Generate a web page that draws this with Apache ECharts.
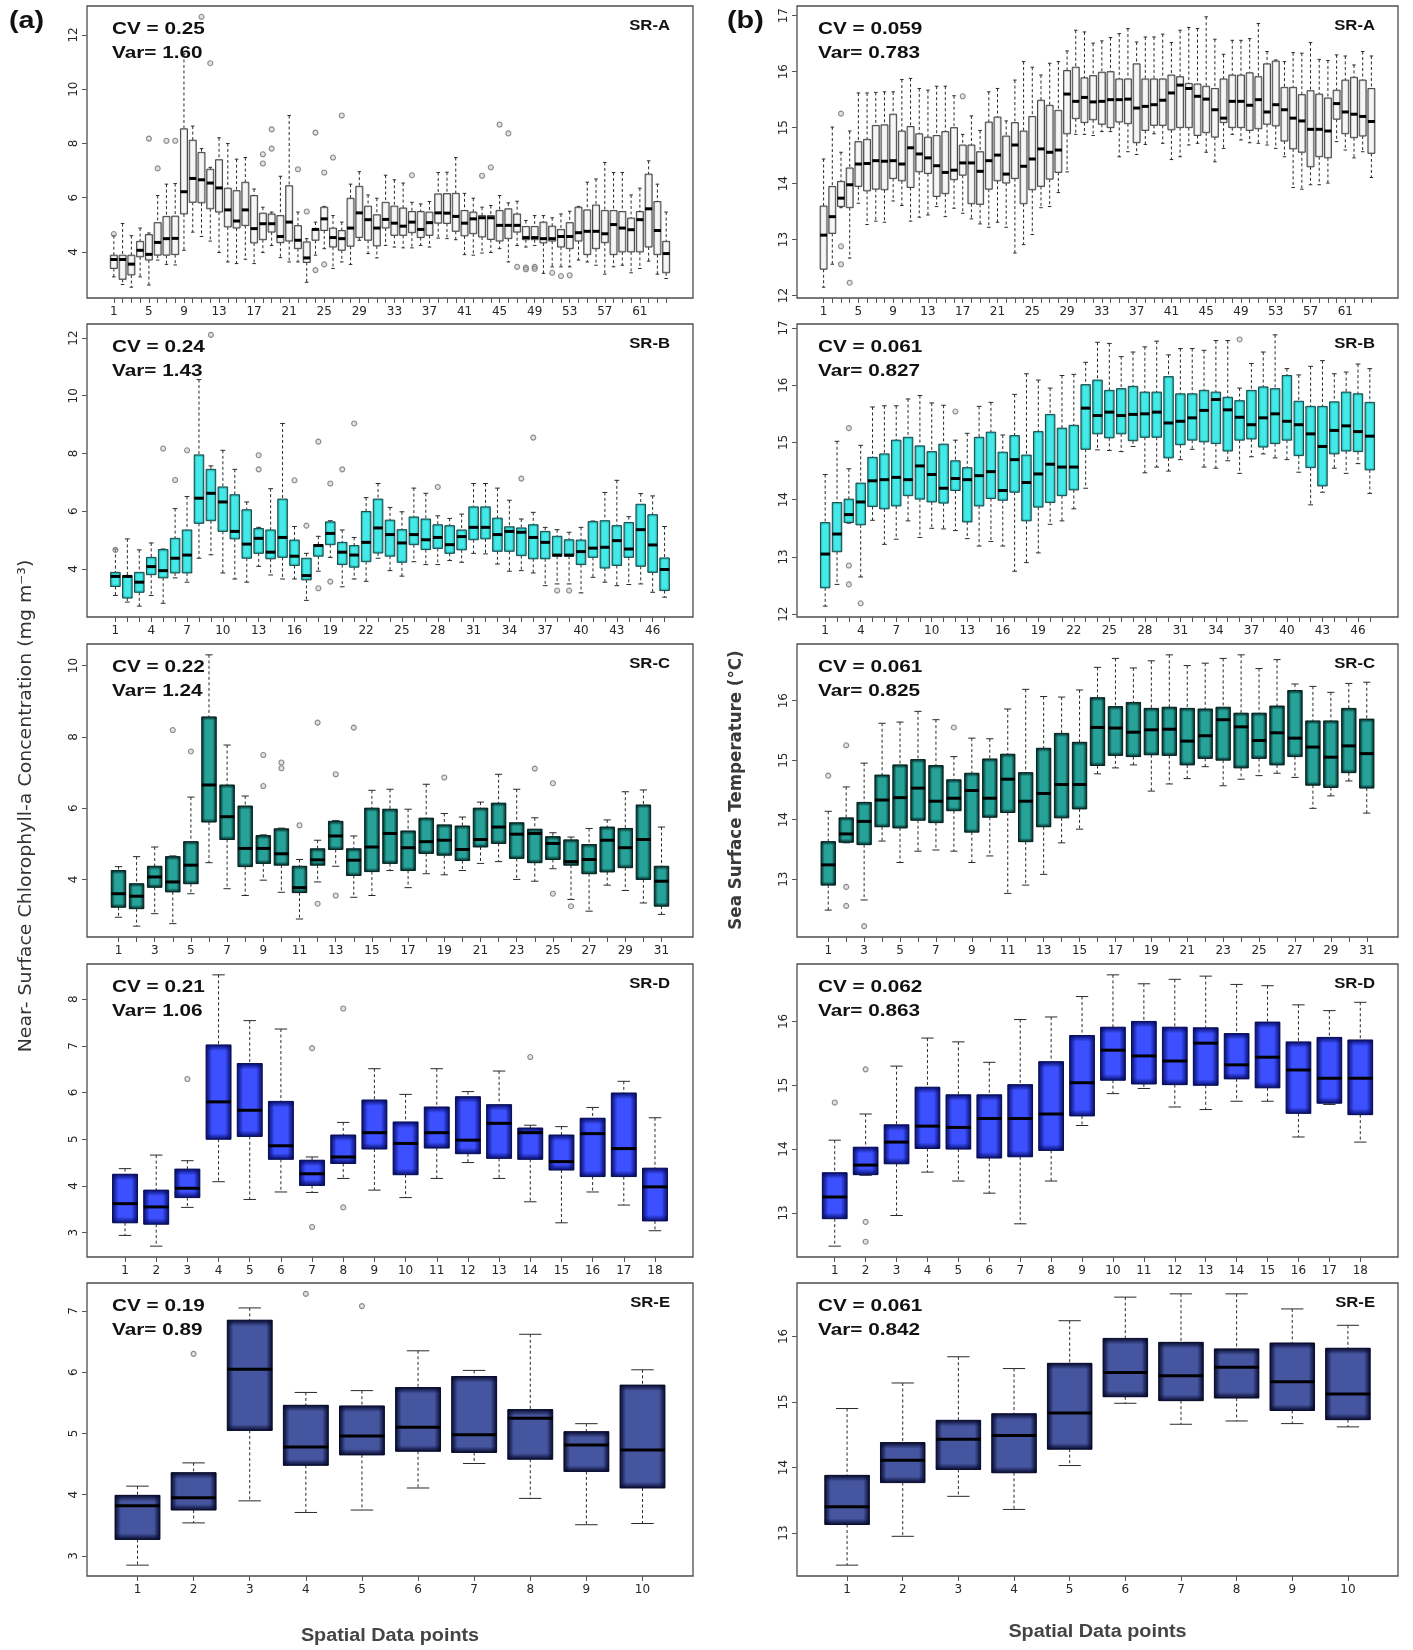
<!DOCTYPE html>
<html>
<head>
<meta charset="utf-8">
<title>Chlorophyll-a and SST box plots by sub-region</title>
<script src="https://cdn.jsdelivr.net/npm/echarts@6.0.0/dist/echarts.min.js"></script>
<style>
  html, body { margin: 0; padding: 0; background: #ffffff; }
  #chart { width: 1413px; height: 1650px; }
</style>
</head>
<body>
<div id="chart"></div>
<script>
// ---- Near-surface chlorophyll-a (mg m-3): [lower whisker, Q1, median, Q3, upper whisker] per spatial data point
const chlA = [
  [3.08,3.39,3.72,3.88,4.6],[2.8,2.99,3.72,3.88,5.05],[2.7,3.15,3.55,3.88,4.6],[3.08,3.82,4.06,4.39,4.88],
  [2.78,3.7,3.91,4.64,4.7],[3.7,3.88,4.35,5.08,6.08],[3.54,3.88,4.49,5.31,6.5],[3.52,3.9,4.5,5.32,6.52],
  [4.06,5.4,6.22,8.54,11.3],[4.73,5.83,6.71,8.12,8.64],[4.57,5.81,6.66,7.67,7.81],[4.4,5.59,6.54,7.05,7.12],
  [3.98,5.47,6.36,7.4,8.21],[3.63,4.92,5.55,6.35,8.0],[3.57,4.88,5.14,6.26,7.42],[3.73,4.97,5.55,6.57,7.48],
  [3.57,4.33,4.86,6.08,6.32],[3.98,4.45,5.04,5.43,5.65],[4.24,4.73,5.04,5.4,5.47],[3.79,4.34,4.57,5.34,6.79],
  [3.63,4.4,5.1,6.44,9.03],[3.63,4.12,4.43,4.97,5.47],[2.88,3.61,3.78,4.37,4.49],[3.88,4.43,4.83,4.86,5.1],
  [4.12,4.79,5.22,5.65,5.68],[3.39,4.18,4.53,4.88,5.34],[3.63,4.06,4.49,4.79,5.1],[3.54,4.21,4.88,5.98,6.5],
  [4.43,4.53,5.44,6.42,6.96],[3.94,4.43,5.19,5.69,6.1],[3.78,4.22,4.88,5.37,5.98],[4.24,4.88,5.2,5.83,6.83],
  [4.18,4.61,5.06,5.69,6.66],[4.15,4.61,4.95,5.62,6.54],[4.15,4.71,5.1,5.49,5.83],[4.24,4.53,4.83,5.49,5.77],
  [4.18,4.61,5.08,5.47,5.86],[4.51,5.06,5.44,6.14,6.93],[4.49,5.05,5.43,6.15,6.94],[4.45,4.76,5.31,6.16,7.48],
  [3.9,4.59,5.06,5.53,6.16],[3.88,4.67,5.22,5.47,5.98],[3.96,4.55,5.26,5.34,5.65],[3.98,4.46,5.26,5.34,5.71],
  [4.12,4.4,4.98,5.53,6.08],[3.63,4.49,4.98,5.59,5.81],[4.24,4.73,4.98,5.4,5.87],[4.18,4.45,4.53,4.94,5.16],
  [4.24,4.45,4.53,4.94,5.34],[3.21,4.33,4.49,5.1,5.34],[3.45,4.4,4.49,4.95,5.26],[3.45,4.18,4.57,4.83,5.4],
  [3.45,4.12,4.57,5.08,5.5],[3.7,4.4,4.71,5.65,5.68],[3.63,3.9,4.76,5.55,6.57],[3.51,4.12,4.76,5.73,6.69],
  [3.18,4.34,4.67,5.53,7.3],[3.45,3.9,5.01,5.53,6.93],[3.51,4.0,4.88,5.49,6.93],[3.23,4.0,4.82,5.25,6.1],
  [3.39,4.0,5.19,5.49,6.35],[3.66,4.18,5.59,6.87,7.36],[3.18,3.9,4.79,5.86,6.5],[3.02,3.23,3.94,4.39,5.47]
];
const chlAOut = [
  [1,4.66],[5,8.18],[6,7.08],[7,8.1],[8,8.1],[11,12.67],[12,10.96],[18,7.6],[18,7.26],[19,8.52],[19,7.81],
  [22,7.05],[23,5.49],[24,8.4],[24,3.33],[25,6.93],[25,3.54],[26,7.48],[27,9.03],[35,6.83],[43,6.81],
  [44,7.12],[45,8.7],[46,8.37],[47,3.45],[48,3.42],[48,3.36],[49,3.45],[49,3.38],[51,3.23],[52,3.11],[53,3.14]
];

const chlB = [
  [3.08,3.39,3.74,3.88,4.69],[2.85,2.99,3.74,3.77,5.04],[2.71,3.19,3.54,3.88,4.66],[3.08,3.8,4.08,4.4,4.9],
  [2.81,3.69,3.94,4.67,4.69],[3.69,3.86,4.37,5.06,6.09],[3.54,3.86,4.48,5.35,6.51],[4.37,5.58,6.45,7.95,10.56],
  [4.49,5.67,6.62,7.45,7.57],[3.86,5.3,6.32,6.84,8.11],[3.65,5.04,5.3,6.57,7.45],[3.54,4.37,4.86,6.05,6.32],
  [4.09,4.54,5.06,5.4,5.44],[3.79,4.35,4.58,5.35,6.78],[3.65,4.4,5.09,6.42,9.04],[3.65,4.12,4.44,5.0,5.47],
  [2.91,3.62,3.77,4.37,4.54],[3.92,4.44,4.81,4.84,5.13],[4.4,4.84,5.23,5.63,5.67],[3.38,4.15,4.58,4.92,5.35],
  [3.65,4.06,4.48,4.81,5.09],[3.57,4.25,4.92,5.99,6.47],[4.37,4.55,5.42,6.42,6.96],[3.94,4.44,5.19,5.69,6.13],
  [3.75,4.23,4.9,5.36,5.98],[4.25,4.84,5.19,5.8,6.8],[4.15,4.67,5.01,5.73,6.62],[4.15,4.71,5.09,5.53,5.84],
  [4.29,4.54,4.84,5.5,5.75],[4.23,4.66,5.12,5.35,5.9],[4.54,5.01,5.44,6.15,6.96],[4.52,5.04,5.44,6.15,6.96],
  [4.17,4.61,5.19,5.76,6.8],[3.92,4.61,5.3,5.46,6.38],[3.94,4.46,5.27,5.42,5.73],[3.86,4.35,5.09,5.53,5.96],
  [3.42,4.35,4.92,5.3,5.44],[3.48,4.44,4.48,5.13,5.36],[3.48,4.44,4.48,5.01,5.27],[3.17,4.15,4.6,5.0,5.44],
  [3.71,4.4,4.72,5.64,5.66],[3.54,4.03,4.75,5.67,6.65],[3.42,4.12,4.98,5.5,7.07],[3.46,4.4,4.69,5.61,5.81],
  [3.48,4.09,5.36,6.24,6.61],[3.19,3.88,4.83,5.88,6.53],[3.02,3.25,3.98,4.38,5.47]
];
const chlBOut = [
  [1,4.66],[5,8.17],[6,7.08],[7,8.11],[9,12.11],[13,7.94],[13,7.45],[16,7.07],[17,5.5],[18,8.41],[18,3.33],
  [19,6.96],[19,3.56],[20,7.45],[21,9.04],[28,6.84],[35,7.13],[36,8.55],[38,3.25],[39,3.25]
];

const chlC = [
  [2.94,3.22,3.6,4.25,4.36],[2.69,3.18,3.53,3.88,4.64],[3.04,3.78,4.07,4.37,4.91],[2.76,3.65,3.93,4.64,4.66],
  [3.6,3.88,4.4,5.06,6.31],[4.47,5.61,6.65,8.56,10.3],[3.74,5.12,5.76,6.65,7.77],[3.55,4.36,4.87,6.06,6.34],
  [3.98,4.45,4.87,5.23,5.25],[3.64,4.4,4.72,5.42,5.44],[2.89,3.63,3.77,4.37,4.56],[3.93,4.4,4.55,4.86,5.1],
  [4.37,4.84,5.22,5.63,5.65],[3.5,4.11,4.54,4.86,5.22],[3.55,4.22,4.91,6.0,6.5],[4.25,4.45,5.29,5.97,6.53],
  [3.77,4.25,4.89,5.36,5.97],[4.16,4.73,5.06,5.72,6.67],[4.13,4.68,5.1,5.53,5.85],[4.25,4.53,4.84,5.5,5.75],
  [4.45,4.91,5.12,6.0,6.17],[4.5,5.01,5.47,6.14,6.95],[4.0,4.59,5.27,5.59,6.53],[3.95,4.47,5.29,5.41,5.73],
  [4.3,4.56,5.01,5.2,5.31],[3.44,4.4,4.5,5.11,5.19],[3.11,4.16,4.56,4.98,5.43],[3.84,4.21,5.1,5.47,5.67],
  [3.69,4.33,4.89,5.43,6.46],[3.34,4.0,5.12,6.09,6.51],[3.02,3.25,3.95,4.37,5.47]
];
const chlCOut = [
  [4,8.19],[5,7.59],[9,7.49],[9,6.62],[10,7.28],[10,7.12],[11,5.52],[12,8.4],[12,3.32],[13,6.95],[13,3.55],
  [14,8.26],[19,6.86],[24,7.11],[25,6.7],[25,3.6],[26,3.25]
];

const chlD = [
  [2.94,3.21,3.62,4.25,4.37],[2.71,3.18,3.55,3.91,4.66],[3.54,3.75,3.95,4.36,4.54],[4.09,5.0,5.8,7.02,8.52],
  [3.71,5.06,5.62,6.62,7.54],[3.87,4.57,4.86,5.81,7.36],[3.86,4.01,4.26,4.55,4.62],[4.16,4.48,4.62,5.09,5.36],
  [3.91,4.79,5.14,5.84,6.51],[3.75,4.24,4.91,5.37,5.96],[4.16,4.81,5.14,5.69,6.51],[4.5,4.69,4.98,5.91,6.02],
  [4.16,4.59,5.34,5.74,6.46],[3.66,4.57,5.14,5.24,5.3],[3.21,4.34,4.52,5.09,5.27],[3.87,4.2,5.12,5.45,5.68],
  [3.59,4.2,4.8,5.99,6.24],[3.04,3.25,3.98,4.38,5.46]
];
const chlDOut = [[3,6.29],[7,6.95],[7,3.12],[8,7.8],[8,3.54],[14,6.76]];

const chlE = [
  [2.85,3.27,3.82,3.99,4.14],[3.54,3.75,3.95,4.36,4.52],[3.9,5.05,6.05,6.85,7.05],[3.71,4.48,4.78,5.46,5.67],
  [3.75,4.65,4.96,5.45,5.7],[4.11,4.71,5.1,5.75,6.35],[4.51,4.69,4.98,5.93,6.03],[3.94,4.58,5.25,5.39,6.62],
  [3.51,4.38,4.81,5.03,5.16],[3.53,4.11,4.73,5.79,6.04]
];
const chlEOut = [[2,6.3],[4,7.28],[5,7.08]];

// ---- Sea surface temperature (°C): [lower whisker, Q1, median, Q3, upper whisker]
const sstA = [
  [12.15,12.47,13.08,13.6,14.44],[12.56,13.11,13.41,13.95,15.01],[13.57,13.59,13.74,14.04,14.56],[12.67,13.57,13.98,14.28,14.94],
  [13.65,13.95,14.35,14.75,15.62],[13.27,13.87,14.36,14.79,15.62],[13.33,13.9,14.41,15.04,15.63],[13.31,13.89,14.4,15.05,15.64],
  [13.69,14.09,14.41,15.24,15.64],[13.61,14.05,14.35,14.94,15.86],[13.33,13.93,14.64,15.02,15.88],[13.4,14.21,14.53,14.89,15.7],
  [13.44,14.18,14.46,14.83,15.67],[13.59,13.77,14.32,14.86,15.74],[13.41,13.82,14.2,14.93,15.74],[13.56,14.07,14.24,15.0,15.57],
  [13.47,14.15,14.37,14.69,14.88],[13.37,13.64,14.37,14.69,15.21],[13.28,13.63,14.22,14.57,14.95],[13.22,13.9,14.41,15.1,15.64],
  [13.31,14.05,14.51,15.19,15.7],[13.22,14.01,14.17,14.85,15.12],[12.76,14.09,14.69,15.09,15.85],[12.91,13.64,14.31,14.94,16.18],
  [13.09,13.89,14.44,15.2,16.08],[13.57,13.95,14.62,15.49,15.94],[13.59,14.08,14.56,15.4,16.15],[13.84,14.2,14.6,15.31,16.18],
  [14.21,14.89,15.6,16.02,16.37],[14.88,15.16,15.47,16.08,16.74],[14.88,15.09,15.54,15.89,16.71],[14.86,15.14,15.46,15.93,16.51],
  [14.93,15.06,15.47,15.99,16.55],[14.93,15.0,15.5,16.0,16.61],[14.48,15.1,15.5,15.87,16.68],[14.57,15.07,15.51,15.87,16.77],
  [14.52,14.73,15.35,16.14,16.53],[14.7,14.95,15.38,15.87,16.62],[14.89,15.04,15.41,15.87,16.62],[14.72,15.04,15.49,15.87,16.67],
  [14.43,14.96,15.62,15.94,16.52],[14.48,15.0,15.76,15.91,16.74],[14.69,15.0,15.7,15.79,16.79],[14.72,14.86,15.56,15.78,16.77],
  [14.56,14.91,15.51,15.74,16.98],[14.39,14.83,15.32,15.7,16.58],[14.63,15.09,15.17,15.87,16.31],[14.88,15.0,15.47,15.94,16.56],
  [14.78,15.0,15.47,15.94,16.56],[14.73,14.95,15.4,15.98,16.59],[14.72,14.98,15.5,15.91,16.86],[14.69,15.06,15.28,16.14,16.36],
  [14.63,15.03,15.41,16.19,16.21],[14.48,14.76,15.32,15.72,16.18],[13.93,14.62,15.17,15.72,16.34],[13.9,14.56,15.12,15.59,16.33],
  [13.98,14.3,14.97,15.66,16.52],[13.98,14.48,14.97,15.6,16.22],[14.01,14.46,14.94,15.53,16.2],[14.75,15.15,15.43,15.67,16.3],
  [14.6,14.89,15.28,15.85,16.28],[14.46,14.82,15.24,15.9,16.12],[14.57,14.85,15.2,15.85,16.36],[14.11,14.54,15.11,15.7,16.28]
];
const sstAOut = [[3,15.25],[3,12.88],[3,12.56],[4,12.23],[17,15.56]];

const sstB = [
  [12.14,12.46,13.05,13.6,14.44],[12.52,13.09,13.4,13.95,15.02],[13.59,13.6,13.74,14.01,14.54],[12.65,13.56,13.96,14.29,14.95],
  [13.64,13.88,14.33,14.74,15.62],[13.22,13.84,14.35,14.8,15.64],[13.31,13.89,14.39,15.04,15.64],[13.63,14.07,14.35,15.09,15.76],
  [13.34,14.01,14.59,14.94,15.82],[13.5,13.96,14.44,14.84,15.69],[13.49,13.94,14.2,14.97,15.65],[13.46,14.16,14.37,14.68,15.04],
  [13.32,13.61,14.35,14.56,15.16],[13.19,13.89,14.42,15.09,15.63],[13.27,14.02,14.49,15.18,15.7],[13.19,13.99,14.16,14.83,15.13],
  [12.75,14.13,14.7,15.12,15.84],[12.9,13.63,14.3,14.78,16.2],[13.07,13.87,14.45,15.19,16.09],[13.57,13.95,14.62,15.49,15.95],
  [13.63,14.07,14.57,15.25,16.17],[13.84,14.17,14.57,15.3,16.19],[14.2,14.88,15.6,16.01,16.4],[14.87,15.15,15.47,16.09,16.75],
  [14.86,15.08,15.53,15.91,16.73],[14.84,15.15,15.47,15.94,16.5],[14.93,15.03,15.49,15.98,16.58],[14.47,15.09,15.5,15.88,16.67],
  [14.57,15.09,15.53,15.88,16.77],[14.5,14.73,15.34,16.15,16.53],[14.7,14.96,15.37,15.85,16.64],[14.88,15.04,15.43,15.85,16.64],
  [14.57,15.01,15.56,15.91,16.61],[14.55,14.98,15.75,15.88,16.78],[14.68,14.85,15.57,15.79,16.78],[14.46,15.04,15.44,15.73,15.95],
  [14.75,15.06,15.31,15.91,16.38],[14.8,14.92,15.43,15.97,16.58],[14.73,14.98,15.5,15.94,16.88],[14.7,15.04,15.37,16.17,16.29],
  [14.48,14.77,15.31,15.72,16.18],[13.91,14.56,15.15,15.63,16.33],[14.13,14.24,14.93,15.63,16.43],[14.55,14.8,15.21,15.71,16.2],
  [14.46,14.85,15.29,15.88,16.23],[14.63,14.84,15.19,15.85,16.37],[14.11,14.52,15.11,15.7,16.29]
];
const sstBOut = [[3,15.25],[3,12.85],[3,12.52],[4,12.19],[12,15.54],[36,16.8]];

const sstC = [
  [12.48,12.9,13.24,13.63,14.14],[13.61,13.62,13.76,14.03,14.55],[12.65,13.58,13.97,14.29,14.95],[13.64,13.88,14.33,14.75,15.62],
  [13.28,13.86,14.37,14.92,15.64],[13.47,13.99,14.53,15.01,15.82],[13.49,13.95,14.31,14.91,15.68],[13.47,14.15,14.36,14.67,15.06],
  [13.28,13.79,14.49,14.78,15.37],[13.39,14.04,14.36,15.02,15.36],[12.76,14.12,14.68,15.1,15.86],[12.9,13.63,14.31,14.79,16.19],
  [13.08,13.88,14.44,15.2,16.07],[13.61,14.03,14.59,15.45,16.06],[13.84,14.18,14.59,15.3,16.18],[14.77,14.91,15.55,16.05,16.56],
  [14.87,15.08,15.54,15.9,16.71],[14.92,15.06,15.47,15.97,16.55],[14.48,15.09,15.51,15.87,16.67],[14.6,15.08,15.52,15.89,16.77],
  [14.69,14.92,15.32,15.87,16.59],[14.89,15.03,15.41,15.86,16.63],[14.57,15.0,15.68,15.89,16.71],[14.68,14.87,15.56,15.79,16.77],
  [14.74,15.03,15.33,15.79,16.54],[14.78,14.92,15.46,15.91,16.69],[14.71,15.06,15.37,16.17,16.28],[14.19,14.58,15.22,15.66,16.24],
  [14.4,14.54,15.05,15.66,16.14],[14.65,14.79,15.24,15.87,16.29],[14.11,14.53,15.11,15.69,16.31]
];
const sstCOut = [[1,14.74],[2,15.25],[2,12.87],[2,12.55],[3,12.21],[8,15.55]];

const sstD = [
  [12.48,12.91,13.25,13.63,14.14],[13.59,13.6,13.75,14.03,14.55],[12.96,13.77,14.11,14.38,15.3],[13.64,14.01,14.36,14.97,15.74],
  [13.5,14.0,14.34,14.85,15.68],[13.31,13.86,14.48,14.85,15.36],[12.83,13.88,14.48,15.01,16.03],[13.5,13.98,14.55,15.37,16.07],
  [14.37,14.52,15.04,15.78,16.39],[14.87,15.08,15.55,15.91,16.73],[14.95,15.02,15.46,16.0,16.59],[14.66,15.01,15.38,15.91,16.66],
  [14.62,15.0,15.66,15.9,16.71],[14.75,15.1,15.32,15.81,16.58],[14.75,14.96,15.44,15.99,16.56],[14.19,14.56,15.24,15.68,16.26],
  [14.7,14.72,15.11,15.75,16.17],[14.11,14.54,15.11,15.71,16.3]
];
const sstDOut = [[1,14.73],[2,15.25],[2,12.86],[2,12.55]];

const sstE = [
  [12.51,13.13,13.4,13.88,14.9],[12.95,13.77,14.11,14.38,15.29],[13.56,13.97,14.43,14.72,15.69],[13.36,13.92,14.49,14.82,15.51],
  [14.03,14.28,14.83,15.59,16.24],[14.98,15.08,15.45,15.97,16.6],[14.66,15.02,15.4,15.91,16.65],[14.71,15.06,15.53,15.81,16.65],
  [14.67,14.87,15.31,15.9,16.42],[14.62,14.73,15.12,15.82,16.17]
];
const sstEOut = [];

// ---- Tick labels
const xLabelsA = [1,5,9,13,17,21,25,29,33,37,41,45,49,53,57,61];
const xLabelsB = [1,4,7,10,13,16,19,22,25,28,31,34,37,40,43,46];
const xLabelsC = [1,3,5,7,9,11,13,15,17,19,21,23,25,27,29,31];
const xLabelsD = [1,2,3,4,5,6,7,8,9,10,11,12,13,14,15,16,17,18];
const xLabelsE = [1,2,3,4,5,6,7,8,9,10];
const chlTicksAB = [4,6,8,10,12];
const chlTicksC = [4,6,8,10];
const chlTicksD = [3,4,5,6,7,8];
const chlTicksE = [3,4,5,6,7];
const sstTicksAB = [12,13,14,15,16,17];
const sstTicksCDE = [13,14,15,16];

// ---- Panel statistics text
const regions = ['SR-A','SR-B','SR-C','SR-D','SR-E'];
const chlCV = ['0.25','0.24','0.22','0.21','0.19'];
const chlVar = ['1.60','1.43','1.24','1.06','0.89'];
const sstCV = ['0.059','0.061','0.061','0.062','0.061'];
const sstVar = ['0.783','0.827','0.825','0.863','0.842'];

// ---- Layout
const FRAME_X = [[87, 693], [797, 1398]];
const FRAME_Y = [[6, 298], [324, 617], [644, 937], [964, 1257], [1283, 1576]];

const PALETTES = [
  { fill: '#f6f6f6', edge: 'rgba(90,90,90,0.55)', clear: 'rgba(90,90,90,0)', stroke: '#4a4a4a', edgePx: 2.5 },
  { fill: '#44eae8', edge: 'rgba(0,100,100,0.55)', clear: 'rgba(0,100,100,0)', stroke: '#1d4b4b', edgePx: 2.5 },
  { fill: '#26a298', edge: 'rgba(3,38,36,0.95)', clear: 'rgba(3,38,36,0)', stroke: '#0b2422', edgePx: 6 },
  { fill: '#3c50ff', edge: 'rgba(6,12,105,0.95)', clear: 'rgba(6,12,105,0)', stroke: '#0b1050', edgePx: 6 },
  { fill: '#46559f', edge: 'rgba(6,10,45,0.95)', clear: 'rgba(6,10,45,0)', stroke: '#0a0d2a', edgePx: 6 }
];

const panels = [
  { side: 0, row: 0, boxes: chlA, out: chlAOut, xl: xLabelsA, yt: chlTicksAB },
  { side: 0, row: 1, boxes: chlB, out: chlBOut, xl: xLabelsB, yt: chlTicksAB },
  { side: 0, row: 2, boxes: chlC, out: chlCOut, xl: xLabelsC, yt: chlTicksC },
  { side: 0, row: 3, boxes: chlD, out: chlDOut, xl: xLabelsD, yt: chlTicksD },
  { side: 0, row: 4, boxes: chlE, out: chlEOut, xl: xLabelsE, yt: chlTicksE },
  { side: 1, row: 0, boxes: sstA, out: sstAOut, xl: xLabelsA, yt: sstTicksAB },
  { side: 1, row: 1, boxes: sstB, out: sstBOut, xl: xLabelsB, yt: sstTicksAB },
  { side: 1, row: 2, boxes: sstC, out: sstCOut, xl: xLabelsC, yt: sstTicksCDE },
  { side: 1, row: 3, boxes: sstD, out: sstDOut, xl: xLabelsD, yt: sstTicksCDE },
  { side: 1, row: 4, boxes: sstE, out: sstEOut, xl: xLabelsE, yt: sstTicksCDE }
];

// y extent padded 4% beyond the data, as base R graphics does
function paddedRange(boxes, out) {
  let lo = Infinity, hi = -Infinity;
  boxes.forEach(function (b) { lo = Math.min(lo, b[0]); hi = Math.max(hi, b[4]); });
  out.forEach(function (o) { lo = Math.min(lo, o[1]); hi = Math.max(hi, o[1]); });
  const pad = (hi - lo) * 0.04;
  return [lo - pad, hi + pad];
}

function boxRenderer(pal) {
  return function (params, api) {
    const x = api.value(0);
    const v = [api.value(1), api.value(2), api.value(3), api.value(4), api.value(5)];
    const unit = api.size([1, 0])[0];
    const bw = unit * 0.8;
    const cap = bw * 0.5;
    const cx = api.coord([x, v[2]])[0];
    const y = v.map(function (val) { return api.coord([x, val])[1]; });
    const left = cx - bw / 2;
    const top = y[3];
    const h = Math.max(y[1] - y[3], 1);
    const edge = Math.min(pal.edgePx, bw * 0.25);
    const ew = Math.min(0.45, edge / bw);
    const eh = Math.min(0.45, edge / h);
    const rectShape = { x: left, y: top, width: bw, height: h };
    const dash = { stroke: '#2a2a2a', lineWidth: 1, lineDash: [3, 2.5] };
    const solid = { stroke: '#2a2a2a', lineWidth: 1 };
    return {
      type: 'group',
      children: [
        { type: 'line', shape: { x1: cx, y1: y[4], x2: cx, y2: y[3] }, style: dash },
        { type: 'line', shape: { x1: cx, y1: y[1], x2: cx, y2: y[0] }, style: dash },
        { type: 'line', shape: { x1: cx - cap / 2, y1: y[4], x2: cx + cap / 2, y2: y[4] }, style: solid },
        { type: 'line', shape: { x1: cx - cap / 2, y1: y[0], x2: cx + cap / 2, y2: y[0] }, style: solid },
        { type: 'rect', shape: rectShape, style: { fill: pal.fill } },
        { type: 'rect', shape: rectShape, style: { fill: new echarts.graphic.LinearGradient(0, 0, 1, 0, [
          { offset: 0, color: pal.edge }, { offset: ew, color: pal.clear },
          { offset: 1 - ew, color: pal.clear }, { offset: 1, color: pal.edge }]) } },
        { type: 'rect', shape: rectShape, style: { fill: new echarts.graphic.LinearGradient(0, 0, 0, 1, [
          { offset: 0, color: pal.edge }, { offset: eh, color: pal.clear },
          { offset: 1 - eh, color: pal.clear }, { offset: 1, color: pal.edge }]) } },
        { type: 'rect', shape: rectShape, style: { fill: 'none', stroke: pal.stroke, lineWidth: 1 } },
        { type: 'line', shape: { x1: left, y1: y[2], x2: left + bw, y2: y[2] }, style: { stroke: '#000', lineWidth: 3 } }
      ]
    };
  };
}

const grids = [], xAxes = [], yAxes = [], series = [], graphics = [];
const tickLabelStyle = { fontFamily: 'DejaVu Sans', fontSize: 12, color: '#262626' };

panels.forEach(function (p, i) {
  const n = p.boxes.length;
  const fx = FRAME_X[p.side], fy = FRAME_Y[p.row];
  const yr = paddedRange(p.boxes, p.out);
  const allTicks = p.boxes.map(function (b, k) { return k + 1; });

  grids.push({ left: fx[0], top: fy[0], width: fx[1] - fx[0], height: fy[1] - fy[0],
    show: true, borderColor: '#4d4d4d', borderWidth: 1.3, containLabel: false });

  xAxes.push({
    gridIndex: i, type: 'value', min: 0.5 - 0.04 * n, max: n + 0.5 + 0.04 * n,
    axisLine: { show: false, onZero: false },
    splitLine: { show: false },
    axisTick: { show: true, length: 5, lineStyle: { color: '#555' }, customValues: allTicks },
    axisLabel: Object.assign({ customValues: p.xl, margin: 8 }, tickLabelStyle)
  });

  yAxes.push({
    gridIndex: i, type: 'value', min: yr[0], max: yr[1],
    axisLine: { show: false, onZero: false },
    splitLine: { show: false },
    axisTick: { show: true, length: 5, lineStyle: { color: '#555' }, customValues: p.yt },
    axisLabel: Object.assign({ customValues: p.yt, rotate: 90, margin: 7 }, tickLabelStyle)
  });

  series.push({
    type: 'custom', xAxisIndex: i, yAxisIndex: i,
    renderItem: boxRenderer(PALETTES[p.row]),
    data: p.boxes.map(function (b, k) { return [k + 1].concat(b); }),
    encode: { x: 0, y: [1, 2, 3, 4, 5] },
    clip: false, z: 2
  });

  series.push({
    type: 'scatter', xAxisIndex: i, yAxisIndex: i,
    data: p.out, symbol: 'circle', symbolSize: 5,
    itemStyle: { color: 'rgba(190,190,190,0.55)', borderColor: '#707070', borderWidth: 1.1 },
    z: 3
  });

  const cv = p.side === 0 ? chlCV[p.row] : sstCV[p.row];
  const vr = p.side === 0 ? chlVar[p.row] : sstVar[p.row];
  const tx = fx[0] + (p.side === 0 ? 25 : 21);
  graphics.push({ type: 'text', x: tx, y: fy[0] + 23, scaleX: 1.22, z: 10,
    style: { text: 'CV = ' + cv, font: 'bold 17px "Liberation Sans", Arial, sans-serif', fill: '#111',
      align: 'left', verticalAlign: 'middle', textAlign: 'left', textVerticalAlign: 'middle' } });
  graphics.push({ type: 'text', x: tx, y: fy[0] + 47, scaleX: 1.22, z: 10,
    style: { text: 'Var= ' + vr, font: 'bold 17px "Liberation Sans", Arial, sans-serif', fill: '#111',
      align: 'left', verticalAlign: 'middle', textAlign: 'left', textVerticalAlign: 'middle' } });
  graphics.push({ type: 'text', x: fx[1] - 23, y: fy[0] + 20, scaleX: 1.15, z: 10,
    style: { text: regions[p.row], font: 'bold 14.5px "Liberation Sans", Arial, sans-serif', fill: '#111',
      align: 'right', verticalAlign: 'middle', textAlign: 'right', textVerticalAlign: 'middle' } });
});

// Panel tags and axis titles
graphics.push({ type: 'text', x: 9, y: 22, scaleX: 1.25, z: 10,
  style: { text: '(a)', font: 'bold 23px "Liberation Sans", Arial, sans-serif', fill: '#111',
    align: 'left', verticalAlign: 'middle', textAlign: 'left', textVerticalAlign: 'middle' } });
graphics.push({ type: 'text', x: 727, y: 22, scaleX: 1.25, z: 10,
  style: { text: '(b)', font: 'bold 23px "Liberation Sans", Arial, sans-serif', fill: '#111',
    align: 'left', verticalAlign: 'middle', textAlign: 'left', textVerticalAlign: 'middle' } });
graphics.push({ type: 'text', x: 26, y: 806, rotation: Math.PI / 2, scaleX: 1.05, z: 10,
  style: { text: 'Near- Surface Chlorophyll-a Concentration (mg m\u207B\u00B3)', font: '18px "DejaVu Sans", sans-serif',
    fill: '#333', align: 'center', verticalAlign: 'middle', textAlign: 'center', textVerticalAlign: 'middle' } });
graphics.push({ type: 'text', x: 737, y: 790, rotation: Math.PI / 2, scaleX: 0.98, z: 10,
  style: { text: 'Sea Surface Temperature (\u00B0C)', font: 'bold 17px "DejaVu Sans", sans-serif',
    fill: '#3a3a3a', align: 'center', verticalAlign: 'middle', textAlign: 'center', textVerticalAlign: 'middle' } });
graphics.push({ type: 'text', x: (FRAME_X[0][0] + FRAME_X[0][1]) / 2, y: 1636, scaleX: 1.1, z: 10,
  style: { text: 'Spatial Data points', font: 'bold 18px "Liberation Sans", Arial, sans-serif', fill: '#444',
    align: 'center', verticalAlign: 'middle', textAlign: 'center', textVerticalAlign: 'middle' } });
graphics.push({ type: 'text', x: (FRAME_X[1][0] + FRAME_X[1][1]) / 2, y: 1632, scaleX: 1.1, z: 10,
  style: { text: 'Spatial Data points', font: 'bold 18px "Liberation Sans", Arial, sans-serif', fill: '#444',
    align: 'center', verticalAlign: 'middle', textAlign: 'center', textVerticalAlign: 'middle' } });

const chart = echarts.init(document.getElementById('chart'), null, { renderer: 'canvas' });
chart.setOption({
  backgroundColor: '#ffffff',
  animation: false,
  grid: grids,
  xAxis: xAxes,
  yAxis: yAxes,
  series: series,
  graphic: { elements: graphics }
});
</script>
</body>
</html>
